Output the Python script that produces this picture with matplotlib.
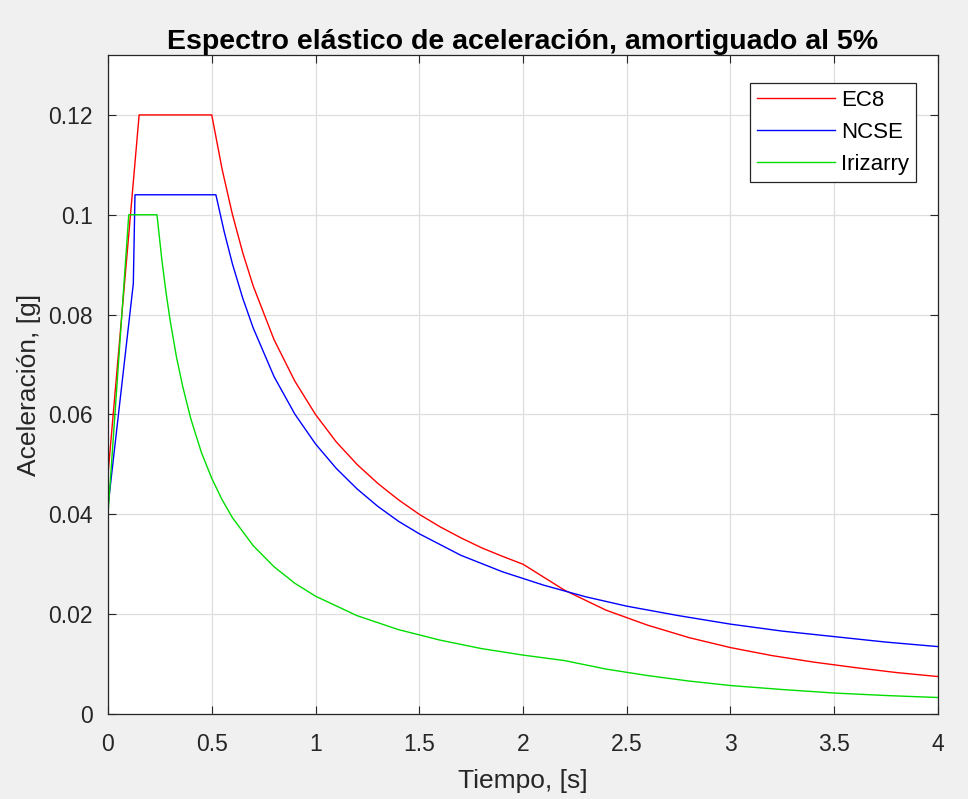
import matplotlib
matplotlib.use("Agg")
import matplotlib.pyplot as plt
from matplotlib.ticker import FuncFormatter

plt.rcParams['font.family'] = ['Liberation Sans', 'DejaVu Sans']

# EC8 spectrum (period [s], acceleration [g])
t_ec8 = [0.0, 0.15, 0.50, 0.55, 0.60, 0.65, 0.70, 0.80, 0.90, 1.00, 1.10, 1.20,
         1.30, 1.40, 1.50, 1.60, 1.70, 1.80, 1.90, 2.00, 2.20, 2.40, 2.60, 2.80,
         3.00, 3.20, 3.40, 3.60, 3.80, 4.00]
a_ec8 = [0.048, 0.120, 0.120, 0.1091, 0.1000, 0.0923, 0.0857, 0.0750, 0.0667,
         0.0600, 0.0545, 0.0500, 0.0462, 0.0429, 0.0400, 0.0375, 0.0353, 0.0333,
         0.0316, 0.0300, 0.0248, 0.0208, 0.0178, 0.0153, 0.0133, 0.0117, 0.0104,
         0.0093, 0.0083, 0.0075]

# NCSE-02 spectrum
t_ncse = [0.0, 0.122, 0.13, 0.52, 0.56, 0.60, 0.65, 0.70, 0.80, 0.90, 1.00,
          1.10, 1.20, 1.30, 1.40, 1.50, 1.70, 1.90, 2.10, 2.30, 2.50, 2.75,
          3.00, 3.25, 3.50, 3.75, 4.00]
a_ncse = [0.0416, 0.0862, 0.104, 0.104, 0.0966, 0.0901, 0.0832, 0.0773, 0.0676,
          0.0601, 0.0541, 0.0492, 0.0451, 0.0416, 0.0386, 0.0361, 0.0318, 0.0285,
          0.0258, 0.0235, 0.0216, 0.0197, 0.0180, 0.0166, 0.0155, 0.0144, 0.0135]

# Irizarry spectrum
t_iriz = [0.0, 0.10, 0.236, 0.26, 0.28, 0.30, 0.33, 0.36, 0.40, 0.45, 0.50,
          0.55, 0.60, 0.70, 0.80, 0.90, 1.00, 1.20, 1.40, 1.60, 1.80, 2.00,
          2.20, 2.40, 2.60, 2.80, 3.00, 3.25, 3.50, 3.75, 4.00]
a_iriz = [0.040, 0.100, 0.100, 0.0908, 0.0843, 0.0787, 0.0715, 0.0656, 0.0590,
          0.0524, 0.0472, 0.0429, 0.0393, 0.0337, 0.0295, 0.0262, 0.0236, 0.0197,
          0.0169, 0.0148, 0.0131, 0.0118, 0.0107, 0.0090, 0.0077, 0.0066, 0.0057,
          0.0049, 0.0042, 0.0037, 0.0033]

xticks = [0, 0.5, 1, 1.5, 2, 2.5, 3, 3.5, 4]
yticks = [0, 0.02, 0.04, 0.06, 0.08, 0.10, 0.12]

fig = plt.figure(figsize=(9.68, 7.99), dpi=100, facecolor='#f0f0f0')
ax = fig.add_axes([108/968, 1 - 714/799, (938 - 108)/968, (714 - 55)/799])
ax.set_facecolor('white')

ax.plot(t_ec8, a_ec8, color='#ff0000', lw=1.0, label='EC8')
ax.plot(t_ncse, a_ncse, color='#0000ff', lw=1.0, label='NCSE')
ax.plot(t_iriz, a_iriz, color='#00dd00', lw=1.0, label='Irizarry')

ax.set_xlim(0, 4)
ax.set_ylim(0, 0.132)
ax.set_xticks(xticks)
ax.set_yticks(yticks)
fmt = FuncFormatter(lambda v, p: ('%g' % round(v, 4)))
ax.xaxis.set_major_formatter(fmt)
ax.yaxis.set_major_formatter(fmt)

ax.grid(True, color='#dedede', lw=0.9, ls='-')
ax.set_axisbelow(True)
ax.tick_params(direction='in', top=True, right=True, length=5.5, width=0.8,
               labelsize=16.5, colors='#262626')
ax.tick_params(axis='x', pad=14)
ax.tick_params(axis='y', pad=11)
for s in ax.spines.values():
    s.set_color('#262626')
    s.set_linewidth(0.9)

ax.set_xlabel('Tiempo, [s]', fontsize=19, color='#262626', labelpad=9)
ax.set_ylabel('Aceleración, [g]', fontsize=19, color='#262626', labelpad=5)
ax.set_title('Espectro elástico de aceleración, amortiguado al 5%',
             fontsize=20.5, fontweight='bold', color='black', pad=4)

leg = ax.legend(loc='upper right', bbox_to_anchor=(916/968, 1 - 83/799),
                bbox_transform=fig.transFigure, borderaxespad=0,
                fontsize=16, fancybox=False, framealpha=1, edgecolor='#262626',
                handlelength=3.5, labelspacing=0.5, handletextpad=0.3,
                borderpad=0.3)
leg.get_frame().set_linewidth(0.9)

plt.savefig('out.png', dpi=100, facecolor=fig.get_facecolor())
